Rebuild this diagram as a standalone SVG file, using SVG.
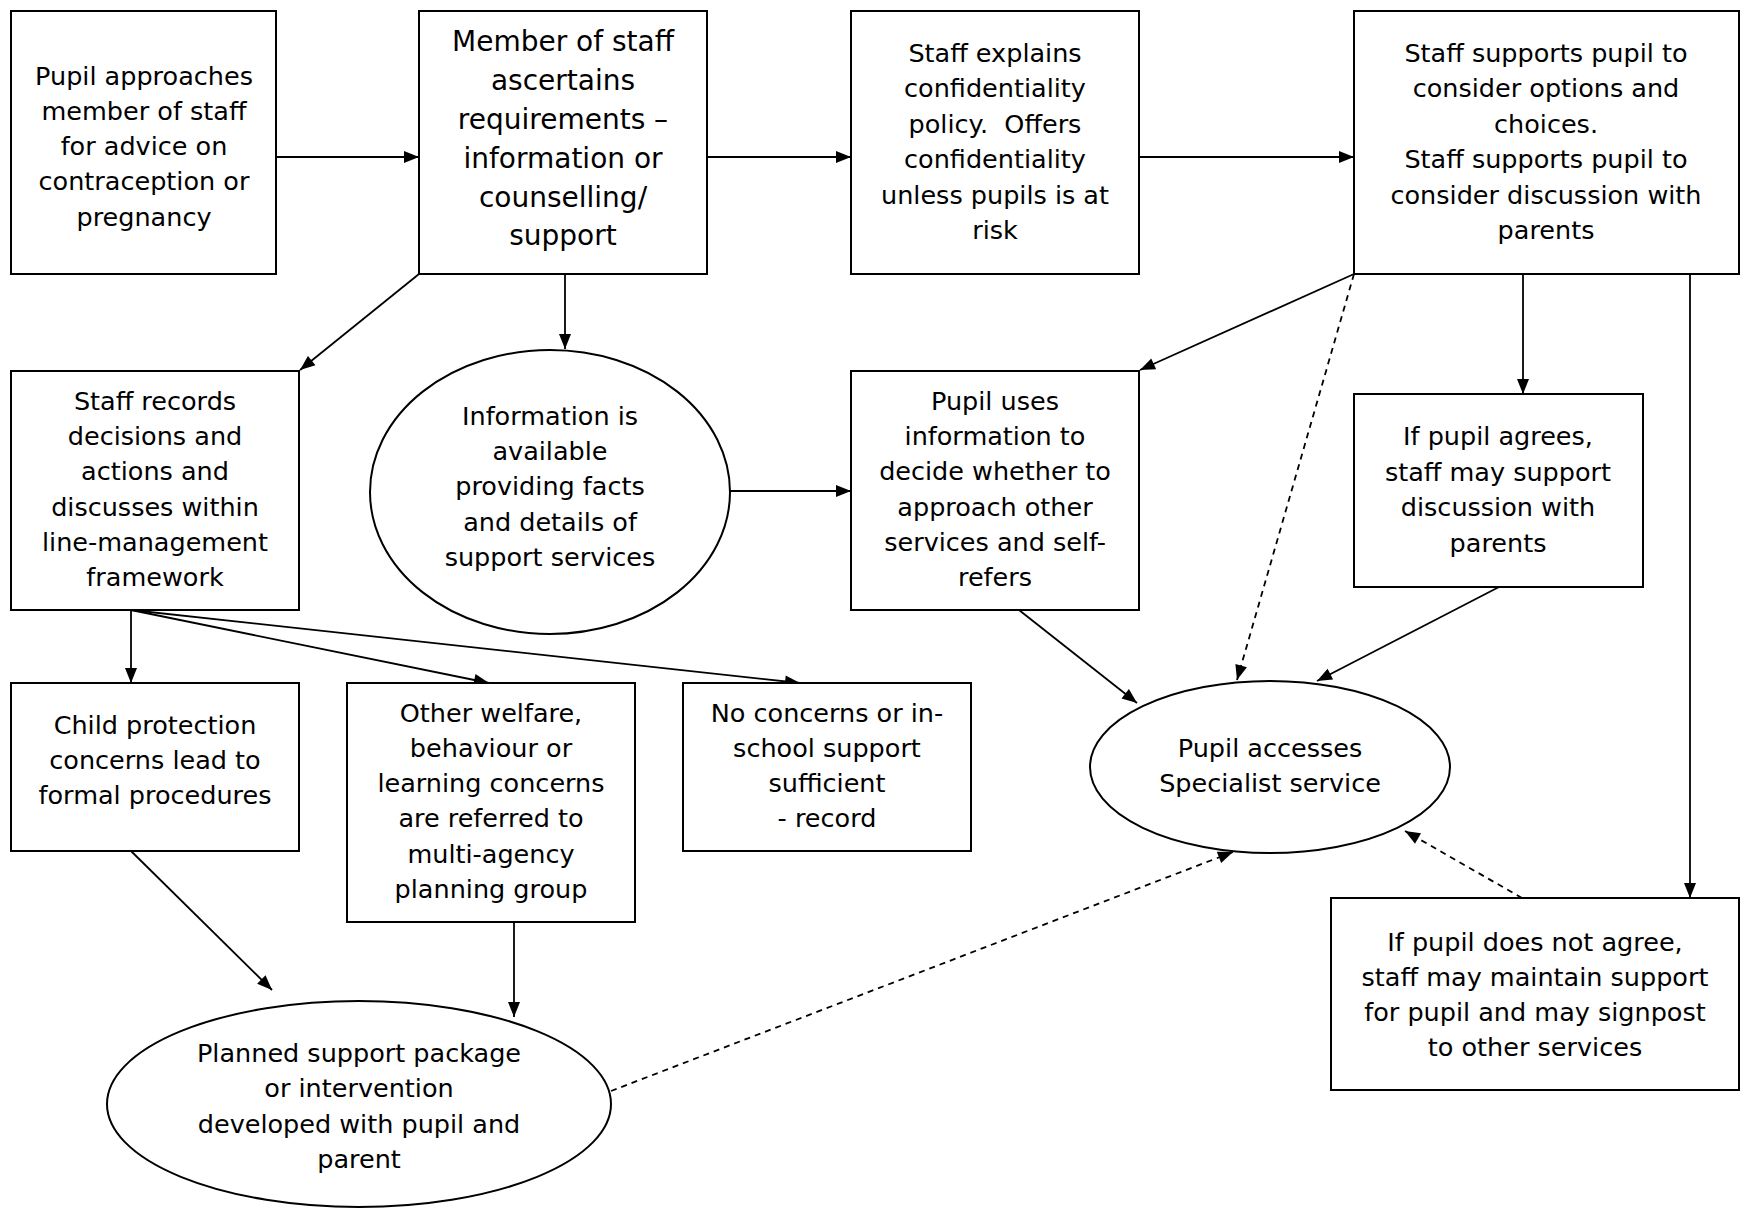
<svg xmlns="http://www.w3.org/2000/svg" width="1742" height="1211" viewBox="0 0 1742 1211">
<style>
.n{fill:#fff;stroke:#000;stroke-width:2}
.t{font-family:"DejaVu Sans","Verdana",sans-serif;font-size:25.5px;fill:#000;text-anchor:middle;white-space:pre}
.big{font-size:28px}
.c{fill:none;stroke:#000;stroke-width:1.8}
.d{stroke-dasharray:6 5}
</style>
<defs>
<marker id="a" markerUnits="userSpaceOnUse" markerWidth="16" markerHeight="12" refX="15" refY="6" orient="auto" overflow="visible">
<path d="M0,0 L15,6 L0,12 z" fill="#000"/>
</marker>
</defs>
<rect width="1742" height="1211" fill="#fff"/>
<g id="connectors">
<line class="c" x1="276" y1="157" x2="419" y2="157" marker-end="url(#a)"/>
<line class="c" x1="707" y1="157" x2="851" y2="157" marker-end="url(#a)"/>
<line class="c" x1="1139" y1="157" x2="1354" y2="157" marker-end="url(#a)"/>
<line class="c" x1="419" y1="274" x2="300" y2="370" marker-end="url(#a)"/>
<line class="c" x1="565" y1="274" x2="565" y2="349" marker-end="url(#a)"/>
<line class="c" x1="730" y1="491" x2="851" y2="491" marker-end="url(#a)"/>
<line class="c" x1="1354" y1="274" x2="1140" y2="370" marker-end="url(#a)"/>
<line class="c d" x1="1354" y1="274" x2="1237" y2="680" marker-end="url(#a)"/>
<line class="c" x1="1523" y1="274" x2="1523" y2="394" marker-end="url(#a)"/>
<line class="c" x1="1690" y1="274" x2="1690" y2="898" marker-end="url(#a)"/>
<line class="c" x1="1019" y1="610" x2="1137" y2="703" marker-end="url(#a)"/>
<line class="c" x1="1499" y1="587" x2="1317" y2="681" marker-end="url(#a)"/>
<line class="c d" x1="1522" y1="898" x2="1405" y2="831" marker-end="url(#a)"/>
<line class="c" x1="131" y1="610" x2="131" y2="683" marker-end="url(#a)"/>
<line class="c" x1="131" y1="610" x2="489" y2="683" marker-end="url(#a)"/>
<line class="c" x1="131" y1="610" x2="800" y2="683" marker-end="url(#a)"/>
<line class="c" x1="131" y1="851" x2="272" y2="990" marker-end="url(#a)"/>
<line class="c" x1="514" y1="922" x2="514" y2="1017" marker-end="url(#a)"/>
<line class="c d" x1="611" y1="1091" x2="1233" y2="852" marker-end="url(#a)"/>
</g>
<g id="n1">
<rect class="n" x="11" y="11" width="265" height="263"/>
<text class="t" x="144"><tspan x="144" y="85">Pupil approaches</tspan><tspan x="144" y="120">member of staff</tspan><tspan x="144" y="155">for advice on</tspan><tspan x="144" y="190">contraception or</tspan><tspan x="144" y="226">pregnancy</tspan></text>
</g>
<g id="n2">
<rect class="n" x="419" y="11" width="288" height="263"/>
<text class="t big" x="563"><tspan x="563" y="51">Member of staff</tspan><tspan x="563" y="90">ascertains</tspan><tspan x="563" y="129">requirements –</tspan><tspan x="563" y="168">information or</tspan><tspan x="563" y="207">counselling/</tspan><tspan x="563" y="245">support</tspan></text>
</g>
<g id="n3">
<rect class="n" x="851" y="11" width="288" height="263"/>
<text class="t" x="995"><tspan x="995" y="62">Staff explains</tspan><tspan x="995" y="97">confidentiality</tspan><tspan x="995" y="133">policy.  Offers</tspan><tspan x="995" y="168">confidentiality</tspan><tspan x="995" y="204">unless pupils is at</tspan><tspan x="995" y="239">risk</tspan></text>
</g>
<g id="n4">
<rect class="n" x="1354" y="11" width="385" height="263"/>
<text class="t" x="1546"><tspan x="1546" y="62">Staff supports pupil to</tspan><tspan x="1546" y="97">consider options and</tspan><tspan x="1546" y="133">choices.</tspan><tspan x="1546" y="168">Staff supports pupil to</tspan><tspan x="1546" y="204">consider discussion with</tspan><tspan x="1546" y="239">parents</tspan></text>
</g>
<g id="n5">
<rect class="n" x="11" y="371" width="288" height="239"/>
<text class="t" x="155"><tspan x="155" y="410">Staff records</tspan><tspan x="155" y="445">decisions and</tspan><tspan x="155" y="480">actions and</tspan><tspan x="155" y="516">discusses within</tspan><tspan x="155" y="551">line-management</tspan><tspan x="155" y="586">framework</tspan></text>
</g>
<g id="n6">
<ellipse class="n" cx="550" cy="492" rx="180" ry="142"/>
<text class="t" x="550"><tspan x="550" y="425">Information is</tspan><tspan x="550" y="460">available</tspan><tspan x="550" y="495">providing facts</tspan><tspan x="550" y="531">and details of</tspan><tspan x="550" y="566">support services</tspan></text>
</g>
<g id="n7">
<rect class="n" x="851" y="371" width="288" height="239"/>
<text class="t" x="995"><tspan x="995" y="410">Pupil uses</tspan><tspan x="995" y="445">information to</tspan><tspan x="995" y="480">decide whether to</tspan><tspan x="995" y="516">approach other</tspan><tspan x="995" y="551">services and self-</tspan><tspan x="995" y="586">refers</tspan></text>
</g>
<g id="n8">
<rect class="n" x="1354" y="394" width="289" height="193"/>
<text class="t" x="1498"><tspan x="1498" y="445">If pupil agrees,</tspan><tspan x="1498" y="481">staff may support</tspan><tspan x="1498" y="516">discussion with</tspan><tspan x="1498" y="552">parents</tspan></text>
</g>
<g id="n9">
<rect class="n" x="11" y="683" width="288" height="168"/>
<text class="t" x="155"><tspan x="155" y="734">Child protection</tspan><tspan x="155" y="769">concerns lead to</tspan><tspan x="155" y="804">formal procedures</tspan></text>
</g>
<g id="n10">
<rect class="n" x="347" y="683" width="288" height="239"/>
<text class="t" x="491"><tspan x="491" y="722">Other welfare,</tspan><tspan x="491" y="757">behaviour or</tspan><tspan x="491" y="792">learning concerns</tspan><tspan x="491" y="827">are referred to</tspan><tspan x="491" y="863">multi-agency</tspan><tspan x="491" y="898">planning group</tspan></text>
</g>
<g id="n11">
<rect class="n" x="683" y="683" width="288" height="168"/>
<text class="t" x="827"><tspan x="827" y="722">No concerns or in-</tspan><tspan x="827" y="757">school support</tspan><tspan x="827" y="792">sufficient</tspan><tspan x="827" y="827">- record</tspan></text>
</g>
<g id="n12">
<ellipse class="n" cx="1270" cy="767" rx="180" ry="86"/>
<text class="t" x="1270"><tspan x="1270" y="757">Pupil accesses</tspan><tspan x="1270" y="792">Specialist service</tspan></text>
</g>
<g id="n13">
<rect class="n" x="1331" y="898" width="408" height="192"/>
<text class="t" x="1535"><tspan x="1535" y="951">If pupil does not agree,</tspan><tspan x="1535" y="986">staff may maintain support</tspan><tspan x="1535" y="1021">for pupil and may signpost</tspan><tspan x="1535" y="1056">to other services</tspan></text>
</g>
<g id="n14">
<ellipse class="n" cx="359" cy="1104" rx="252" ry="103"/>
<text class="t" x="359"><tspan x="359" y="1062">Planned support package</tspan><tspan x="359" y="1097">or intervention</tspan><tspan x="359" y="1133">developed with pupil and</tspan><tspan x="359" y="1168">parent</tspan></text>
</g>
</svg>
